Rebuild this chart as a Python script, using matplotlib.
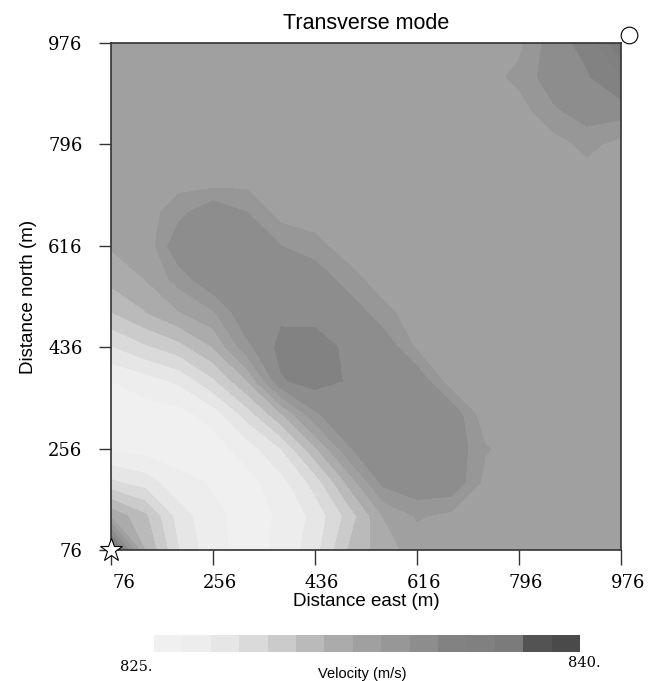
import numpy as np
import matplotlib
matplotlib.use("Agg")
import matplotlib.pyplot as plt
import matplotlib.transforms as mtrans
from matplotlib.colors import ListedColormap, BoundaryNorm

# grid coordinates (m)
east = [76, 136, 196, 256, 316, 376, 436, 496, 556, 616, 676, 736, 796, 856, 916, 976]
north = [76, 136, 196, 256, 316, 376, 436, 496, 556, 616, 676, 736, 796, 856, 916, 976]

B = 832.5
# velocity rows, from south (north=76) to north (north=976)
row00 = [837.5, 831.0, 828.0, 826.3, 825.6, 826.2, 827.6, 830.1, 831.5, B, B, B, B, B, B, B]
row01 = [831.8, 830.2, 827.5, 826.2, 825.7, 826.1, 827.3, 829.4, 832.0, 833.1, 832.7, B, B, B, B, B]
row02 = [828.2, 827.5, 826.3, 825.9, 825.6, 826.6, 828.4, 831.3, 834.3, 834.9, 834.9, 832.7, B, B, B, B]
row03 = [825.8, 825.6, 825.5, 825.5, 826.5, 828.0, 830.8, 833.9, 834.9, 834.9, 834.9, 833.1, B, B, B, B]
row04 = [825.5, 825.5, 825.6, 826.4, 828.4, 830.8, 833.8, 834.9, 834.9, 834.9, 834.9, 832.3, B, B, B, B]
row05 = [826.0, 826.5, 827.2, 828.8, 831.0, 834.9, 835.4, 834.9, 834.9, 834.9, 832.4, B, B, B, B, B]
row06 = [827.9, 828.8, 829.6, 831.0, 833.7, 835.3, 835.8, 834.6, 834.9, 832.8, B, B, B, B, B, B]
row07 = [829.9, 830.9, 831.9, 832.8, 834.9, 834.8, 834.4, 834.9, 833.3, B, B, B, B, B, B, B]
row08 = [831.3, 832.0, 833.4, 834.9, 834.9, 834.9, 834.9, 833.4, B, B, B, B, B, B, B, B]
row09 = [832.1, 832.2, 834.9, 834.9, 834.9, 834.0, 833.3, B, B, B, B, B, B, B, B, B]
row10 = [B, B, 833.6, 834.9, 834.0, B, B, B, B, B, B, B, B, B, B, B]
row11 = [B, B, B, 832.2, B, B, B, B, B, B, B, B, B, B, B, B]
row12 = [B, B, B, B, B, B, B, B, B, B, B, B, B, B, 833.3, 832.6]
row13 = [B, B, B, B, B, B, B, B, B, B, B, B, B, 833.8, 834.6, 834.5]
row14 = [B, B, B, B, B, B, B, B, B, B, B, B, 833.3, 834.6, 834.9, 836.0]
row15 = [B, B, B, B, B, B, B, B, B, B, B, B, 832.7, 834.6, 835.3, 837.9]

velocity = np.array([row00, row01, row02, row03, row04, row05, row06, row07,
                     row08, row09, row10, row11, row12, row13, row14, row15])

levels = list(range(825, 841))
colors = ['#f0f0f0', '#ededed', '#e6e6e6', '#dadada', '#cbcbcb', '#bababa',
          '#ababab', '#a0a0a0', '#979797', '#8d8d8d', '#828282', '#808080',
          '#7b7b7b', '#535353', '#4a4a4a']
ticks = [76, 256, 436, 616, 796, 976]
source_xy = (76, 76)
receiver_xy = (990, 990)

cmap = ListedColormap(colors)
norm = BoundaryNorm(levels, cmap.N)

fig = plt.figure(figsize=(6.57, 6.81), dpi=100)
ax = fig.add_axes([111/657, 1-550/681, 510/657, 507/681])
E, N = np.meshgrid(east, north)
cf = ax.contourf(E, N, velocity, levels=levels, cmap=cmap, norm=norm)
ax.set_xlim(76, 976)
ax.set_ylim(76, 976)
ax.set_xticks(ticks)
ax.set_yticks(ticks)
ax.set_xticklabels([str(t) for t in ticks], family='DejaVu Serif', fontsize=13)
ax.set_yticklabels([str(t) for t in ticks], family='DejaVu Serif', fontsize=13)
ax.tick_params(axis='x', direction='out', length=11, width=1.0, color='#333333', pad=6)
ax.tick_params(axis='y', direction='out', length=8.6, width=1.0, color='#333333', pad=12)
offset = mtrans.ScaledTranslation(0.24, 0, fig.dpi_scale_trans)
for lab in ax.get_xticklabels():
    lab.set_horizontalalignment('right')
    lab.set_transform(lab.get_transform() + offset)
for s in ax.spines.values():
    s.set_color('#333333')
    s.set_linewidth(1.2)
ax.set_xlabel('Distance east (m)', family='Liberation Sans', fontsize=13.5)
ax.set_ylabel('Distance north (m)', family='Liberation Sans', fontsize=13.5)
ax.xaxis.label.set_verticalalignment('center')
ax.xaxis.set_label_coords(0.5, (550 - 601) / 507)
ax.yaxis.label.set_verticalalignment('center')
ax.yaxis.set_label_coords((29 - 111) / 510, 0.5)
ax.set_title('Transverse mode', family='Liberation Sans', fontsize=15.5, pad=10)

ax.plot(*source_xy, marker='*', markersize=17, markerfacecolor='white',
        markeredgecolor='black', markeredgewidth=0.8, clip_on=False, zorder=5)
ax.plot(*receiver_xy, marker='o', markersize=12, markerfacecolor='white',
        markeredgecolor='black', markeredgewidth=0.8, clip_on=False, zorder=5)

cax = fig.add_axes([154/657, 1-652/681, 426/657, 17/681])
cb = fig.colorbar(cf, cax=cax, orientation='horizontal')
cb.outline.set_visible(False)
cax.minorticks_off()
cax.set_xticks([])
cax.set_xticks([], minor=True)
fig.text(136/657, 1-667/681, '825.', family='DejaVu Serif', fontsize=10.5,
         ha='center', va='center')
fig.text(584/657, 1-663/681, '840.', family='DejaVu Serif', fontsize=10.5,
         ha='center', va='center')
fig.text(362/657, 1-674/681, 'Velocity (m/s)', family='Liberation Sans',
         fontsize=10.5, ha='center', va='center')

fig.savefig('out.png', dpi=100)
